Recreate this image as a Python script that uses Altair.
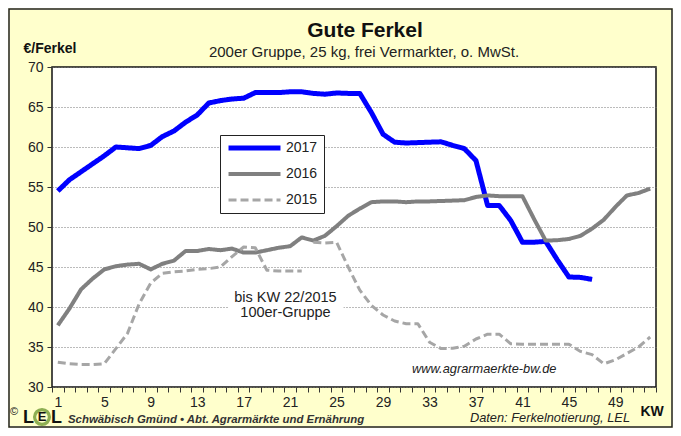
import altair as alt
import pandas as pd

# ---- data ----
kw = list(range(1, 53))
preis_2017 = [54.5, 55.9, 56.9, 57.9, 58.9, 60.0, 59.9, 59.8, 60.2, 61.3,
              62.0, 63.1, 64.0, 65.5, 65.8, 66.0, 66.1, 66.8, 66.8, 66.8,
              66.9, 66.9, 66.7, 66.6, 66.75, 66.7, 66.7, 64.3, 61.6, 60.6,
              60.5, 60.55, 60.6, 60.65, 60.2, 59.8, 58.3, 52.7, 52.7, 50.8,
              48.1, 48.1, 48.2, 45.9, 43.75, 43.7, 43.45]
preis_2016 = [37.7, 39.8, 42.2, 43.55, 44.7, 45.1, 45.3, 45.4, 44.7, 45.4,
              45.8, 47.0, 47.0, 47.25, 47.1, 47.3, 46.8, 46.8, 47.1, 47.4,
              47.6, 48.7, 48.3, 48.9, 50.1, 51.4, 52.3, 53.1, 53.2, 53.2,
              53.1, 53.2, 53.2, 53.25, 53.3, 53.35, 53.75, 53.95, 53.85, 53.85,
              53.85, 51.0, 48.3, 48.35, 48.5, 48.9, 49.8, 50.9, 52.5, 53.95,
              54.25, 54.8]
preis_2015_100er = [33.1, 32.9, 32.8, 32.8, 32.9, 34.8, 36.7, 40.4, 43.0, 44.2,
                    44.4, 44.5, 44.7, 44.8, 45.0, 46.3, 47.5, 47.4, 44.6, 44.5,
                    44.5, 44.5]                       # KW 1-22
preis_2015_200er = [48.1, 48.0, 48.1, 45.0, 42.1, 40.2, 39.0, 38.25, 37.9, 37.9,
                    35.6, 34.8, 34.85, 35.1, 36.0, 36.6, 36.6, 35.4, 35.35, 35.35,
                    35.35, 35.35, 35.35, 34.45, 34.05, 32.9, 33.4, 34.2, 35.0, 36.25]  # KW 23-52

jahre = ["2017", "2016", "2015"]
farben = ["#0000FF", "#808080", "#A6A6A6"]
breiten = [5, 3, 3]
striche = [[1, 0], [1, 0], [8, 4]]
x_label_weeks = [1, 5, 9, 13, 17, 21, 25, 29, 33, 37, 41, 45, 49]
x_tick_bounds = [k + 0.5 for k in range(0, 53)]
y_ticks = [30, 35, 40, 45, 50, 55, 60, 65, 70]

titel = "Gute Ferkel"
untertitel = "200er Gruppe, 25 kg, frei Vermarkter, o. MwSt."

FONT = "Liberation Sans"

frames = [
    pd.DataFrame({"kw": kw[:len(preis_2017)], "preis": preis_2017, "jahr": "2017", "abschnitt": "2017"}),
    pd.DataFrame({"kw": kw[:len(preis_2016)], "preis": preis_2016, "jahr": "2016", "abschnitt": "2016"}),
    pd.DataFrame({"kw": kw[:22], "preis": preis_2015_100er, "jahr": "2015", "abschnitt": "2015a"}),
    pd.DataFrame({"kw": kw[22:], "preis": preis_2015_200er, "jahr": "2015", "abschnitt": "2015b"}),
]
df = pd.concat(frames, ignore_index=True)

xs = alt.Scale(domain=[0.5, 52.5], nice=False, zero=False)
ys = alt.Scale(domain=[30, 70], nice=False, zero=False)

x_axis_labels = alt.Axis(
    values=x_label_weeks, orient="bottom", ticks=False,
    labelAngle=0, labelFontSize=14, labelFont=FONT, labelColor="#222",
    labelPadding=8, labelOverlap=False, labelFlush=False, labelBound=False,
    grid=False, domain=False,
    title="KW", titleX=588, titleY=28, titleAlign="left", titleBaseline="alphabetic",
    titleFontSize=14, titleFontWeight="bold", titleFont=FONT, titleColor="#111",
)
x_axis_ticks = alt.Axis(
    values=x_tick_bounds, orient="bottom", labels=False, ticks=True, tickSize=5,
    tickColor="#333", grid=False, domain=False, title=None,
)
y_axis = alt.Axis(
    values=y_ticks, grid=True, gridDash=[1, 2], gridColor="#777", gridWidth=1,
    tickSize=5, tickColor="#333", labelPadding=4, labelFontSize=14, labelFont=FONT,
    labelColor="#222", domain=False,
    title="€/Ferkel", titleAngle=0, titleX=-29, titleY=-15, titleAlign="left",
    titleBaseline="alphabetic", titleFontSize=14, titleFontWeight="bold",
    titleFont=FONT, titleColor="#111",
)

legend_common = dict(title=None, orient="none", legendX=168, legendY=68,
                     symbolType="stroke", symbolSize=2700, clipHeight=14,
                     labelFontSize=14, labelFont=FONT, labelColor="#222",
                     padding=6, rowPadding=12, labelOffset=3,
                     strokeColor="#222", fillColor="white")

# white box behind the annotation text (carries the tick-only x axis)
box_df = pd.DataFrame({"kw": [15.7], "kw2": [25.6], "preis": [42.3], "preis2": [38.3]})
box = alt.Chart(box_df).mark_rect(color="white").encode(
    x=alt.X("kw:Q", scale=xs, axis=x_axis_ticks), x2="kw2:Q",
    y=alt.Y("preis:Q", scale=ys, axis=y_axis), y2="preis2:Q",
)

lines = alt.Chart(df).mark_line(strokeJoin="round", strokeCap="butt").encode(
    x=alt.X("kw:Q", scale=xs, axis=x_axis_labels),
    y=alt.Y("preis:Q", scale=ys, axis=y_axis),
    color=alt.Color("jahr:N", scale=alt.Scale(domain=jahre, range=farben),
                    legend=alt.Legend(**legend_common)),
    strokeWidth=alt.StrokeWidth("jahr:N", scale=alt.Scale(domain=jahre, range=breiten),
                                legend=alt.Legend(**legend_common)),
    strokeDash=alt.StrokeDash("jahr:N", scale=alt.Scale(domain=jahre, range=striche),
                              legend=alt.Legend(**legend_common)),
    detail="abschnitt:N",
    order="kw:Q",
)

note_df = pd.DataFrame({"kw": [20.6, 20.6], "preis": [40.6, 38.8],
                        "text": ["bis KW 22/2015", "100er-Gruppe"]})
notes = alt.Chart(note_df).mark_text(font=FONT, fontSize=14.5, color="#222",
                                     align="center", baseline="alphabetic").encode(
    x=alt.X("kw:Q", scale=xs, axis=None), y=alt.Y("preis:Q", scale=ys, axis=y_axis),
    text="text:N")

web_df = pd.DataFrame({"kw": [31.5], "preis": [31.7], "text": ["www.agrarmaerkte-bw.de"]})
web = alt.Chart(web_df).mark_text(font=FONT, fontSize=12.8, fontStyle="italic", color="#222",
                                  align="left", baseline="alphabetic").encode(
    x=alt.X("kw:Q", scale=xs, axis=None), y=alt.Y("preis:Q", scale=ys, axis=y_axis),
    text="text:N")

one = pd.DataFrame({"a": [0]})
# title block
title_t = alt.Chart(one).mark_text(text=titel, font=FONT, fontSize=21, fontWeight="bold",
                                   color="#111", align="center", baseline="alphabetic").encode(
    x=alt.value(313), y=alt.value(-30))
sub_t = alt.Chart(one).mark_text(text=untertitel, font=FONT, fontSize=15, color="#222",
                                 align="center", baseline="alphabetic").encode(
    x=alt.value(312), y=alt.value(-10))
# footer
copy_t = alt.Chart(one).mark_text(text="©", font=FONT, fontSize=11, color="#111",
                                  align="left", baseline="alphabetic").encode(
    x=alt.value(-42), y=alt.value(348))
logo_ring = alt.Chart(one).mark_point(shape="circle", size=220, filled=False,
                                      stroke="#5E8C1F", strokeWidth=3.2).encode(
    x=alt.value(-10), y=alt.value(350))
logo_l1 = alt.Chart(one).mark_text(text="L", font=FONT, fontSize=18, fontWeight="bold",
                                   color="#111", align="left", baseline="alphabetic").encode(
    x=alt.value(-29), y=alt.value(356))
logo_e = alt.Chart(one).mark_text(text="E", font=FONT, fontSize=13, fontWeight="bold",
                                  color="#111", align="center", baseline="middle").encode(
    x=alt.value(-10), y=alt.value(350))
logo_l2 = alt.Chart(one).mark_text(text="L", font=FONT, fontSize=18, fontWeight="bold",
                                   color="#111", align="left", baseline="alphabetic").encode(
    x=alt.value(-1), y=alt.value(356))
lel_t = alt.Chart(one).mark_text(text="Schwäbisch Gmünd • Abt. Agrarmärkte und Ernährung",
                                 font=FONT, fontSize=11.4, fontStyle="italic", fontWeight="bold",
                                 color="#333", align="left", baseline="alphabetic").encode(
    x=alt.value(16), y=alt.value(356))
daten_t = alt.Chart(one).mark_text(text="Daten: Ferkelnotierung, LEL", font=FONT, fontSize=12.8,
                                   fontStyle="italic", color="#222", align="right",
                                   baseline="alphabetic").encode(
    x=alt.value(578), y=alt.value(355))
border = alt.Chart(one).mark_rect(fill=None, stroke="#222", strokeWidth=1.5).encode(
    x=alt.value(-43), x2=alt.value(620), y=alt.value(-58), y2=alt.value(360))

chart = alt.layer(
    box, lines, notes, web, title_t, sub_t, copy_t, logo_ring, logo_l1, logo_e, logo_l2,
    lel_t, daten_t, border
).resolve_axis(
    x="independent"
).properties(
    width=604, height=320,
    autosize=alt.AutoSizeParams(type="none"),
    padding={"left": 44, "top": 59, "right": 17, "bottom": 41},
).configure(
    background="#FFFFCC",
).configure_view(
    stroke="#111", strokeWidth=1.5, fill="white",
)

chart.save("out.html", embed_options={"renderer": "svg", "actions": False})
